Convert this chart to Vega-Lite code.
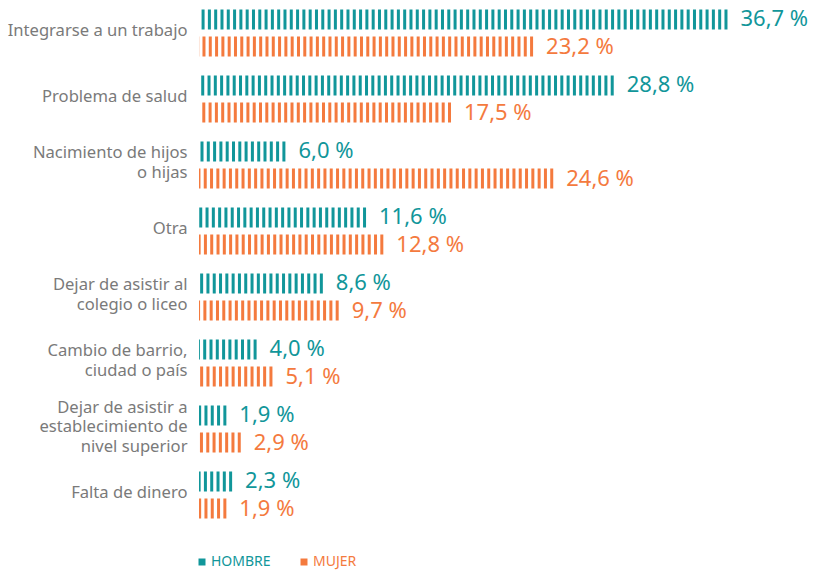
{
  "$schema": "https://vega.github.io/schema/vega-lite/v6.json",
  "autosize": "none",
  "padding": {"left": 199, "top": 0, "right": 41, "bottom": 42},
  "width": 576,
  "height": 528,
  "background": "white",
  "config": {"view": {"stroke": null}, "font": "Noto Sans"},
  "data": {
    "values": [
      {"motivo": "Integrarse a un trabajo", "sexo": "HOMBRE", "valor": 36.7},
      {"motivo": "Integrarse a un trabajo", "sexo": "MUJER", "valor": 23.2},
      {"motivo": "Problema de salud", "sexo": "HOMBRE", "valor": 28.8},
      {"motivo": "Problema de salud", "sexo": "MUJER", "valor": 17.5},
      {"motivo": "Nacimiento de hijos|o hijas", "sexo": "HOMBRE", "valor": 6.0},
      {"motivo": "Nacimiento de hijos|o hijas", "sexo": "MUJER", "valor": 24.6},
      {"motivo": "Otra", "sexo": "HOMBRE", "valor": 11.6},
      {"motivo": "Otra", "sexo": "MUJER", "valor": 12.8},
      {"motivo": "Dejar de asistir al|colegio o liceo", "sexo": "HOMBRE", "valor": 8.6},
      {"motivo": "Dejar de asistir al|colegio o liceo", "sexo": "MUJER", "valor": 9.7},
      {"motivo": "Cambio de barrio,|ciudad o país", "sexo": "HOMBRE", "valor": 4.0},
      {"motivo": "Cambio de barrio,|ciudad o país", "sexo": "MUJER", "valor": 5.1},
      {"motivo": "Dejar de asistir a|establecimiento de|nivel superior", "sexo": "HOMBRE", "valor": 1.9},
      {"motivo": "Dejar de asistir a|establecimiento de|nivel superior", "sexo": "MUJER", "valor": 2.9},
      {"motivo": "Falta de dinero", "sexo": "HOMBRE", "valor": 2.3},
      {"motivo": "Falta de dinero", "sexo": "MUJER", "valor": 1.9}
    ]
  },
  "transform": [
    {"calculate": "replace(format(datum.valor, '.1f'), '.', ',') + ' %'", "as": "etiqueta"}
  ],
  "encoding": {
    "y": {
      "field": "motivo",
      "type": "nominal",
      "sort": null,
      "scale": {"paddingInner": 0, "paddingOuter": 0},
      "axis": {
        "title": null,
        "domain": false,
        "ticks": false,
        "labelPadding": 12,
        "labelFontSize": 16.6,
        "labelColor": "#7a7a7a",
        "labelLineHeight": 19.5,
        "labelLimit": 300,
        "labelExpr": "split(datum.label, '|')",
        "labelOffset": {"expr": "-2 - (length(split(datum.value, '|')) - 1) * 9.75"}
      }
    },
    "yOffset": {
      "field": "sexo",
      "type": "nominal",
      "scale": {"paddingInner": 0, "paddingOuter": 0.222}
    },
    "color": {
      "field": "sexo",
      "type": "nominal",
      "scale": {"domain": ["HOMBRE", "MUJER"], "range": ["#11969a", "#f47a3e"]},
      "legend": {
        "title": null,
        "orient": "none",
        "legendX": -4,
        "legendY": 555,
        "direction": "horizontal",
        "symbolType": "square",
        "symbolSize": 49,
        "symbolStrokeWidth": 0,
        "labelFontSize": 14,
        "labelOffset": 2,
        "columnPadding": 26,
        "encode": {
          "labels": {"update": {"fill": {"scale": "color", "field": "value"}}}
        }
      }
    }
  },
  "layer": [
    {
      "mark": {"type": "rule", "strokeWidth": 20, "strokeDash": [3, 3.3], "strokeCap": "butt"},
      "encoding": {
        "x": {
          "field": "valor",
          "type": "quantitative",
          "scale": {"domain": [0, 40], "nice": false},
          "axis": null
        },
        "x2": {"datum": 0}
      }
    },
    {
      "mark": {"type": "text", "align": "left", "baseline": "middle", "dx": 13, "fontSize": 22},
      "encoding": {
        "x": {"field": "valor", "type": "quantitative"},
        "text": {"field": "etiqueta"}
      }
    }
  ]
}
